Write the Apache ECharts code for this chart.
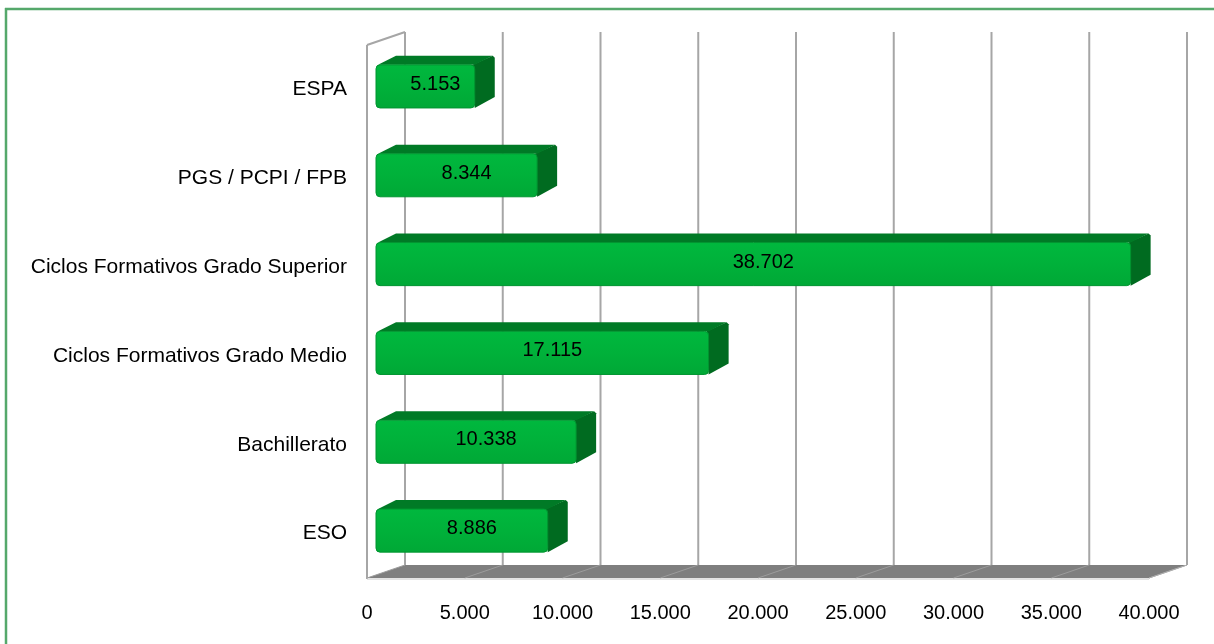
<!DOCTYPE html>
<html><head><meta charset="utf-8">
<script src="https://cdn.jsdelivr.net/npm/echarts@6/dist/echarts.min.js"></script>
<style>html,body{margin:0;padding:0;background:#fff}#c{width:1214px;height:644px}</style>
</head><body><div id="c"></div>
<script>
const categories = ['ESO', 'Bachillerato', 'Ciclos Formativos Grado Medio', 'Ciclos Formativos Grado Superior', 'PGS / PCPI / FPB', 'ESPA'];
const values = [8886, 10338, 17115, 38702, 8344, 5153];
const tickValues = [0, 5000, 10000, 15000, 20000, 25000, 30000, 35000, 40000];

function fmt(n) { return String(n).replace(/\B(?=(\d{3})+(?!\d))/g, '.'); }

const FONT = '"Liberation Sans", Arial, sans-serif';
const D = [38, -13]; // full depth of the plot box

function renderWalls(params, api) {
  const band = api.size([0, 1])[1];
  const yBot = api.coord([0, 0])[1] + band / 2;
  const yTop = api.coord([0, categories.length - 1])[1] - band / 2;
  const x0 = api.coord([tickValues[0], 0])[0];
  const xMax = api.coord([tickValues[tickValues.length - 1], 0])[0];
  const ch = [];
  ch.push({ type: 'polygon', shape: { points: [[x0, yBot], [x0 + D[0], yBot + D[1]], [xMax + D[0], yBot + D[1]], [xMax, yBot]] }, style: { fill: '#7f7f7f' } });
  tickValues.forEach(v => {
    const x = api.coord([v, 0])[0];
    ch.push({ type: 'line', shape: { x1: x, y1: yBot, x2: x + D[0], y2: yBot + D[1] }, style: { stroke: '#9c9c9c', lineWidth: 1 } });
  });
  tickValues.forEach(v => {
    const x = api.coord([v, 0])[0] + D[0];
    ch.push({ type: 'line', shape: { x1: x, y1: yTop + D[1], x2: x, y2: yBot + D[1] }, style: { stroke: '#a6a6a6', lineWidth: 2 } });
  });
  ch.push({ type: 'line', shape: { x1: x0, y1: yTop, x2: x0, y2: yBot + 1 }, style: { stroke: '#a6a6a6', lineWidth: 2 } });
  ch.push({ type: 'line', shape: { x1: x0, y1: yTop, x2: x0 + D[0], y2: yTop + D[1] }, style: { stroke: '#a6a6a6', lineWidth: 2 } });
  ch.push({ type: 'line', shape: { x1: x0, y1: yBot + 1, x2: xMax, y2: yBot + 1 }, style: { stroke: '#c8c8c8', lineWidth: 1 } });
  ch.push({ type: 'line', shape: { x1: xMax, y1: yBot, x2: xMax + D[0], y2: yBot + D[1] }, style: { stroke: '#b0b0b0', lineWidth: 1 } });
  return { type: 'group', children: ch };
}

function renderBar(params, api) {
  const v = api.value(0), c = api.value(1);
  const p0 = api.coord([0, c]), p1 = api.coord([v, c]);
  const band = api.size([0, 1])[1];
  const h = band * 0.485;
  const ox = 9, oy = -3, dx = 20, dy = -9;
  const xl = p0[0] + ox, xr = p1[0] + ox - 2, yc = p0[1] + oy;
  const yt = yc - h / 2, yb = yc + h / 2;
  return {
    type: 'group',
    children: [
      { type: 'polygon', shape: { points: [[xr - 2, yt], [xr + dx - 2, yt + dy], [xr + dx, yt + dy + 2], [xr + dx, yb + dy - 2], [xr, yb]] }, style: { fill: '#006b20' } },
      { type: 'polygon', shape: { points: [[xl + 2, yt], [xl + dx, yt + dy], [xr + dx - 2, yt + dy], [xr, yt]] }, style: { fill: '#007a26' } },
      { type: 'rect', shape: { x: xl, y: yt, width: xr - xl, height: h, r: 4 },
        style: { fill: new echarts.graphic.LinearGradient(0, 0, 0, 1, [{ offset: 0, color: '#00b83e' }, { offset: 0.5, color: '#00b13a' }, { offset: 1, color: '#00a836' }]), stroke: '#009430', lineWidth: 1 } },
      { type: 'text', style: { x: (xl + xr + dx) / 2, y: yc - 2, text: fmt(v), fill: '#000', font: '20px ' + FONT, align: 'center', verticalAlign: 'middle' } }
    ]
  };
}

const chart = echarts.init(document.getElementById('c'), null, { renderer: 'canvas' });
chart.setOption({
  animation: false,
  backgroundColor: '#fff',
  grid: { left: 367, right: 65, top: 45, bottom: 66, containLabel: false, outerBoundsMode: 'none' },
  xAxis: {
    type: 'value', min: 0, max: 40000, interval: 5000,
    axisLine: { show: false }, axisTick: { show: false }, splitLine: { show: false },
    axisLabel: { formatter: v => fmt(v), color: '#000', fontSize: 20, fontFamily: FONT, margin: 25 }
  },
  yAxis: {
    type: 'category', data: categories,
    axisLine: { show: false }, axisTick: { show: false }, splitLine: { show: false },
    axisLabel: { color: '#000', fontSize: 21, fontFamily: FONT, margin: 20, padding: [6, 0, 0, 0] }
  },
  graphic: [
    { type: 'line', shape: { x1: 5, y1: 9, x2: 1214, y2: 9 }, style: { stroke: '#55a86b', lineWidth: 2.5 } },
    { type: 'line', shape: { x1: 6, y1: 8, x2: 6, y2: 644 }, style: { stroke: '#55a86b', lineWidth: 2.5 } }
  ],
  series: [
    { type: 'custom', name: 'walls', renderItem: renderWalls, data: [[0, 0]], encode: { x: 0, y: 1 }, z: 1, silent: true },
    { type: 'custom', name: 'Alumnado', renderItem: renderBar, data: values.map((v, i) => [v, i]), encode: { x: 0, y: 1 }, z: 2 }
  ]
});
</script></body></html>
